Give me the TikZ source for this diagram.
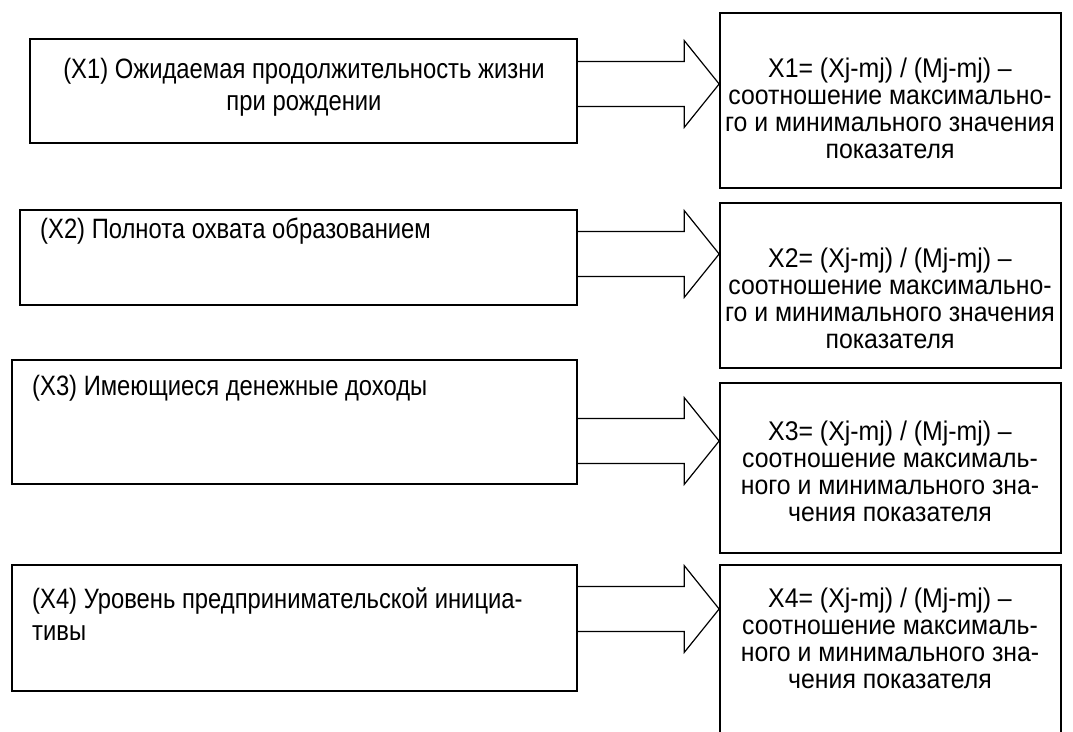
\documentclass[tikz,border=0pt]{standalone}
\usepackage{fontspec}
\setmainfont{Liberation Sans}
\newfontfamily\leftfont[FakeStretch=0.85]{Liberation Sans}
\newfontfamily\rightfont[FakeStretch=0.92]{Liberation Sans}
\usetikzlibrary{calc}
\newcommand\blkarrow[3]{%
  \draw[arrowline] let \p1=(#1.east), \p2=(#2.west) in
    ({\x1},{\y1+#3+22.5pt}) -- ({\x2-35pt},{\y1+#3+22.5pt}) --
    ({\x2-35pt},{\y1+#3+43.5pt}) -- ({\x2},{\y1+#3}) --
    ({\x2-35pt},{\y1+#3-43.5pt}) -- ({\x2-35pt},{\y1+#3-22.5pt}) --
    ({\x1},{\y1+#3-22.5pt});}
\begin{document}
\begin{tikzpicture}[x=1pt,y=-1pt,
  box/.style={draw, line width=1.7pt, inner sep=0pt, minimum width=#1},
  arrowline/.style={draw, line width=1.2pt, line join=miter},
  lefttext/.style={inner sep=0pt, font=\leftfont\fontsize{28}{32}\selectfont},
  righttext/.style={inner sep=0pt, font=\rightfont\fontsize{27}{27}\selectfont}]
\useasboundingbox (0,0) rectangle (1073,731);
\clip (0,0) rectangle (1073,731);
% left boxes
\node[box=547pt, minimum height=104pt] (L1) at (303.5,91) {};
\node[box=557pt, minimum height=95pt]  (L2) at (298.5,257.5) {};
\node[box=565pt, minimum height=124pt] (L3) at (294.5,422) {};
\node[box=565pt, minimum height=126pt] (L4) at (294.5,628) {};
% right boxes
\node[box=341pt, minimum height=175pt] (R1) at (890.5,100.5) {};
\node[box=341pt, minimum height=165pt] (R2) at (890.5,285.5) {};
\node[box=341pt, minimum height=170pt] (R3) at (890.5,468) {};
\node[box=341pt, minimum height=195pt] (R4) at (890.5,662.5) {};
% block arrows
\blkarrow{L1}{R1}{7pt}
\blkarrow{L2}{R2}{3.5pt}
\blkarrow{L3}{R3}{-19pt}
\blkarrow{L4}{R4}{19pt}
% left texts
\node[lefttext, anchor=base] (T1) at (304,78)
  {\begin{tabular}[t]{@{}c@{}}(X1) Ожидаемая продолжительность жизни\\при рождении\end{tabular}};
\node[lefttext, anchor=base west] (T2) at (40,238)
  {\begin{tabular}[t]{@{}l@{}}(X2) Полнота охвата образованием\end{tabular}};
\node[lefttext, anchor=base west] (T3) at (32,395)
  {\begin{tabular}[t]{@{}l@{}}(X3) Имеющиеся денежные доходы\end{tabular}};
\node[lefttext, anchor=base west] (T4) at (32,608)
  {\begin{tabular}[t]{@{}l@{}}(X4) Уровень предпринимательской инициа-\\тивы\end{tabular}};
% right texts
\node[righttext, anchor=base] (S1) at (890,77)
  {\begin{tabular}[t]{@{}c@{}}X1= (Xj-mj) / (Mj-mj) –\\соотношение максимально-\\го и минимального значения\\показателя\end{tabular}};
\node[righttext, anchor=base] (S2) at (890,267)
  {\begin{tabular}[t]{@{}c@{}}X2= (Xj-mj) / (Mj-mj) –\\соотношение максимально-\\го и минимального значения\\показателя\end{tabular}};
\node[righttext, anchor=base] (S3) at (890,440)
  {\begin{tabular}[t]{@{}c@{}}X3= (Xj-mj) / (Mj-mj) –\\соотношение максималь-\\ного и минимального зна-\\чения показателя\end{tabular}};
\node[righttext, anchor=base] (S4) at (890,607)
  {\begin{tabular}[t]{@{}c@{}}X4= (Xj-mj) / (Mj-mj) –\\соотношение максималь-\\ного и минимального зна-\\чения показателя\end{tabular}};
\end{tikzpicture}
\end{document}
